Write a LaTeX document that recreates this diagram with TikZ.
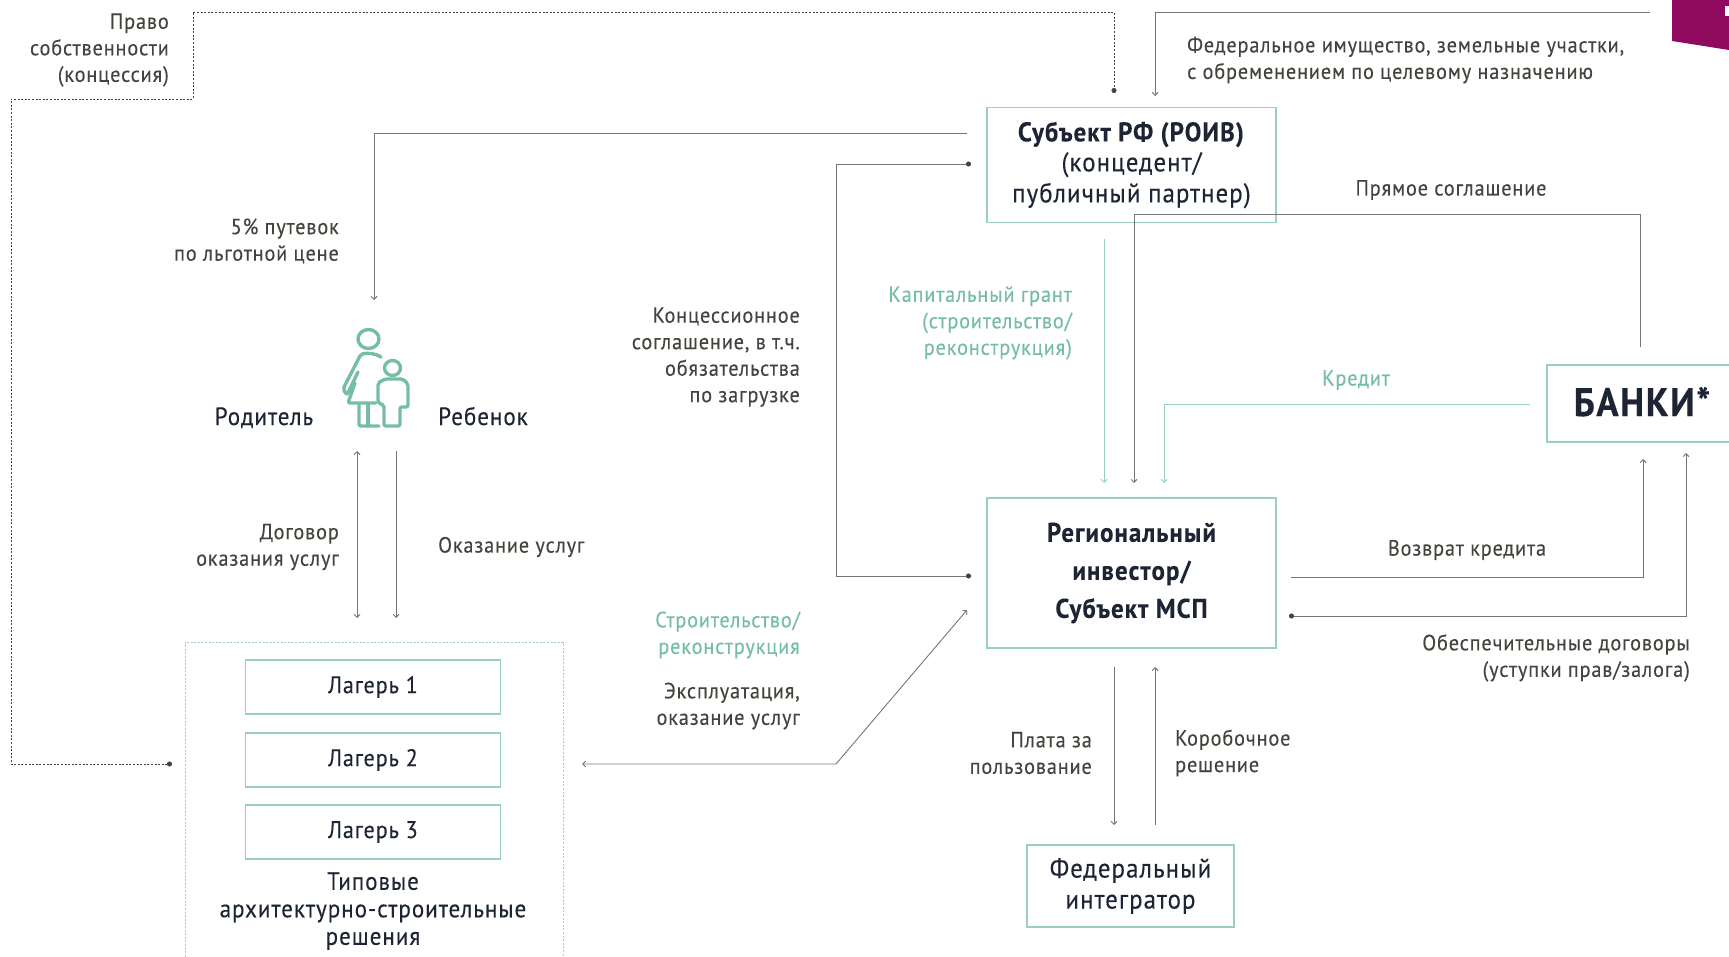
\documentclass[tikz,border=0pt]{standalone}
\usepackage{fontspec}
\setmainfont[FakeStretch=0.92,LetterSpace=4,RawFeature={embolden=0.25}]{PT Sans}
\usetikzlibrary{arrows.meta}
\definecolor{inkDark}{HTML}{1D2433}
\definecolor{inkGrey}{HTML}{44443E}
\definecolor{lineGrey}{HTML}{76766E}
\definecolor{tealLine}{HTML}{9AD0BE}
\definecolor{tealText}{HTML}{76BDA6}
\definecolor{plumFill}{HTML}{8F0A5E}

\tikzset{
  lbl/.style={font=\fontsize{22}{26.5}\selectfont, text=inkGrey, inner sep=0pt, yshift=-2pt},
  lblR/.style={lbl, anchor=east, align=right},
  lblL/.style={lbl, anchor=west, align=left},
  greenlbl/.style={text=tealText},
  mainbox/.style={draw=tealLine, line width=1.1pt, text=inkDark, align=center, inner sep=0pt,
    font=\fontsize{27}{31}\selectfont},
  campbox/.style={mainbox, minimum width=255, minimum height=54, font=\fontsize{24}{26}\selectfont},
  conn/.style={draw=lineGrey, line width=0.9pt, >={Straight Barb[length=3pt,width=6pt]}},
  tealconn/.style={conn, draw=tealLine},
  dotline/.style={draw=inkGrey, line width=0.7pt, dash pattern=on 2pt off 1.6pt},
  bigdot/.tip={Circle[length=5pt,color=inkGrey]}
}

\begin{document}
\begin{tikzpicture}[x=1pt,y=-1pt]
  \useasboundingbox (0,0) rectangle (1729,957);

  % corner tab
  \fill[plumFill] (1672,0) -- (1672,41) -- (1729,50) -- (1729,0) -- cycle;
  \fill[white] (1725,6) rectangle (1729,16);

  % main boxes
  \node[mainbox, minimum width=289, minimum height=115] (subj) at (1131.5,165)
    {\raisebox{-1pt}{\textbf{Субъект РФ (РОИВ)}}\\(концедент/\\публичный партнер)};
  \node[mainbox, minimum width=289, minimum height=150, font=\fontsize{27}{38}\selectfont\bfseries] (region) at (1131.5,573)
    {\raisebox{2pt}{Региональный}\\\raisebox{2pt}{инвестор/}\\\raisebox{2pt}{Субъект МСП}};
  \node[mainbox, minimum width=207, minimum height=82] (fed) at (1130.5,886) {Федеральный\\интегратор};
  \node[mainbox, minimum width=190, minimum height=77, font=\fontsize{40}{44}\selectfont\bfseries] (banks) at (1642,403.5) {\raisebox{4pt}{БАНКИ*}};

  % camps
  \node[mainbox, dash pattern=on 2pt off 1.6pt, line width=0.9pt, minimum width=378, minimum height=328] (campsArea) at (374,806) {};
  \node[campbox] (camp1) at (373,687) {\raisebox{-1pt}{Лагерь 1}};
  \node[campbox] (camp2) at (373,760) {\raisebox{-1pt}{Лагерь 2}};
  \node[campbox] (camp3) at (373,832) {\raisebox{-1pt}{Лагерь 3}};
  \node[lbl, align=center, text=inkDark, font=\fontsize{25}{27.5}\selectfont] (campsText) at (373,909)
    {Типовые\\архитектурно-строительные\\решения};

  % free ends of the connectors
  \coordinate (ownEnd) at (172,764);
  \coordinate (ownTop) at (1114,93);
  \coordinate (fedIn) at (1155,96);
  \coordinate (fedFrom) at (1650,12);
  \coordinate (voucherFrom) at (967,133);
  \coordinate (voucherTo) at (374,300);
  \coordinate (concTop) at (971,164);
  \coordinate (concLow) at (971,576);
  \coordinate (grantFrom) at (1104,239);
  \coordinate (grantTo) at (1104,483);
  \coordinate (directEnd) at (1640,347);
  \coordinate (directTo) at (1134,483);
  \coordinate (creditFrom) at (1530,404);
  \coordinate (creditTo) at (1164,483);
  \coordinate (returnFrom) at (1291,577);
  \coordinate (returnTo) at (1643,459);
  \coordinate (pledgeEnd) at (1289,616);
  \coordinate (pledgeTo) at (1686,453);
  \coordinate (feeFrom) at (1114,667);
  \coordinate (feeTo) at (1114,825);
  \coordinate (boxFrom) at (1155,825);
  \coordinate (boxTo) at (1155,667);
  \coordinate (buildLeft) at (582,764);
  \coordinate (buildRight) at (967,610);
  \coordinate (pA) at (357,451);
  \coordinate (pB) at (357,618);
  \coordinate (cA) at (396,451);
  \coordinate (cB) at (396,618);

  % dotted ownership line
  \draw[dotline, bigdot-bigdot]
    (ownEnd) -- (11,764) -- (11,99) -- (193,99) -- (193,12) -- (1114,12) -- (ownTop);

  % grey connectors
  \draw[conn,->] (fedFrom) -- (1155,12) -- (fedIn);
  \draw[conn,->] (voucherFrom) -- (374,133) -- (voucherTo);
  \draw[conn,bigdot-bigdot] (concTop) -- (836,164) -- (836,576) -- (concLow);
  \draw[conn,->] (directEnd) -- (1640,214) -- (1134,214) -- (directTo);
  \draw[conn,->] (returnFrom) -- (1643,577) -- (returnTo);
  \draw[conn,bigdot->] (pledgeEnd) -- (1686,616) -- (pledgeTo);
  \draw[conn,->] (feeFrom) -- (feeTo);
  \draw[conn,->] (boxFrom) -- (boxTo);
  \draw[conn,<->] (buildLeft) -- (836,764) -- (buildRight);
  \draw[conn,<->] (pA) -- (pB);
  \draw[conn,->] (cA) -- (cB);

  % teal connectors
  \draw[tealconn,->] (grantFrom) -- (grantTo);
  \draw[tealconn,->] (creditFrom) -- (1164,404) -- (creditTo);

  % parent and child icon
  \begin{scope}[draw=tealText, line width=3.4pt, line cap=round, line join=round, rounded corners=2pt]
    \draw (368.5,339) ellipse (10.5 and 9.5);
    \draw (392.5,368) ellipse (8 and 7.5);
    % mother
    \draw (381,357) .. controls (375,353) and (368,353) .. (361,354) -- (343,389) -- (347,395) -- (358,372);
    \draw (355,383) -- (348,403) -- (376,403);
    \draw (359,404) -- (359,426) -- (379,426);
    \draw (368,404) -- (368,426);
    % child
    \draw (384,426) -- (384,405) -- (378,403) -- (378,383) -- (385,379) -- (403,379) -- (408,384) -- (408,407) -- (400,407) -- (400,426) -- cycle;
  \end{scope}

  % labels
  \node[lblR] (ownLbl) at (169,48) {Право\\собственности\\(концессия)};
  \node[lblL] (fedLbl) at (1187,58) {Федеральное имущество, земельные участки,\\с обременением по целевому назначению};
  \node[lbl] (directLbl) at (1451,188) {Прямое соглашение};
  \node[lblR] (voucherLbl) at (339,239) {5\% путевок\\по льготной цене};
  \node[lblR] (concLbl) at (800,355) {Концессионное\\соглашение, в т.ч.\\обязательства\\по загрузке};
  \node[lblR,greenlbl] (grantLbl) at (1072,321) {Капитальный грант\\(строительство/\\реконструкция)};
  \node[lbl,greenlbl] (creditLbl) at (1356,378) {Кредит};
  \node[lbl, anchor=base, yshift=3pt, text=inkDark, font=\fontsize{25}{26}\selectfont] (parentLbl) at (264,426) {Родитель};
  \node[lbl, anchor=base, yshift=3pt, text=inkDark, font=\fontsize{25}{26}\selectfont] (childLbl) at (483,426) {Ребенок};
  \node[lblR] (contractLbl) at (339,545) {Договор\\оказания услуг};
  \node[lblL] (serviceLbl) at (438,545) {Оказание услуг};
  \node[lbl] (returnLbl) at (1467,548) {Возврат кредита};
  \node[lblR] (pledgeLbl) at (1690,656) {Обеспечительные договоры\\(уступки прав/залога)};
  \node[lblR,greenlbl] (buildLbl) at (800,633) {Строительство/\\реконструкция};
  \node[lblR] (operLbl) at (800,704) {Эксплуатация,\\оказание услуг};
  \node[lblR] (feeLbl) at (1092,751) {Плата за\\пользование};
  \node[lblL] (boxLbl) at (1175,751) {Коробочное\\решение};
\end{tikzpicture}
\end{document}
